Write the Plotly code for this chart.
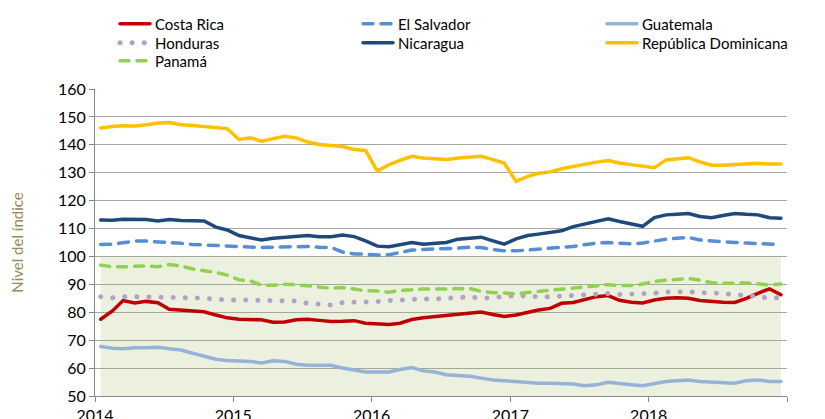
import pandas as pd
import plotly.graph_objects as go

months = pd.date_range("2014-01-01", periods=60, freq="MS") + pd.Timedelta(days=15)

costa_rica = [77.5, 80.5, 84.2, 83.3, 83.9, 83.4, 81.1, 80.7, 80.5, 80.2, 79.0, 78.0,
              77.5, 77.4, 77.3, 76.4, 76.5, 77.3, 77.5, 77.1, 76.7, 76.8, 77.0, 76.1,
              75.7, 75.6, 76.1, 77.4, 78.0, 78.4, 78.8, 79.1, 79.5, 80.1, 79.2, 78.5,
              79.0, 80.1, 80.8, 81.4, 83.2, 83.5, 84.4, 85.6, 86.0, 84.3, 83.6, 83.3,
              84.4, 85.0, 85.2, 85.0, 84.2, 83.8, 83.6, 83.5, 85.0, 86.8, 88.4, 86.3]
el_salvador = [104.3, 104.4, 104.9, 105.5, 105.5, 105.3, 105.0, 104.7, 104.3, 104.1, 104.0, 103.8,
               103.5, 103.4, 103.2, 103.3, 103.5, 103.6, 103.6, 103.3, 103.2, 101.6, 100.9, 100.8,
               100.5, 100.6, 101.5, 102.3, 102.5, 102.6, 102.7, 103.0, 103.3, 103.2, 102.5, 102.0,
               102.0, 102.3, 102.8, 103.1, 103.3, 103.6, 104.2, 104.8, 105.0, 104.6, 104.5, 104.8,
               105.5, 106.2, 106.5, 106.8, 105.9, 105.5, 105.3, 105.0, 104.8, 104.7, 104.3, 104.3]
guatemala = [67.7, 67.1, 66.9, 67.3, 67.3, 67.5, 66.9, 66.5, 65.3, 64.2, 63.2, 62.7,
             62.7, 62.4, 61.8, 62.6, 62.4, 61.4, 61.0, 61.0, 61.0, 60.0, 59.2, 58.6,
             58.6, 58.6, 59.5, 60.2, 59.0, 58.6, 57.6, 57.4, 57.1, 56.4, 55.7, 55.5,
             55.2, 54.8, 54.6, 54.6, 54.6, 54.3, 53.7, 54.0, 54.9, 54.4, 54.0, 53.7,
             54.6, 55.2, 55.5, 55.7, 55.2, 54.9, 54.6, 54.6, 55.5, 55.7, 55.2, 55.2]
honduras = [85.6, 85.2, 85.6, 85.6, 85.6, 85.6, 85.2, 85.2, 85.2, 85.0, 84.6, 84.4,
            84.4, 84.4, 84.0, 84.0, 84.3, 84.0, 83.2, 82.9, 82.6, 83.5, 83.5, 83.5,
            83.8, 84.2, 84.5, 84.8, 84.8, 84.8, 84.9, 85.0, 85.5, 85.0, 85.5, 85.6,
            86.0, 85.6, 85.6, 85.6, 85.8, 86.0, 86.4, 86.7, 86.7, 86.4, 86.5, 86.8,
            86.8, 87.3, 87.4, 87.4, 87.0, 87.0, 86.8, 86.2, 86.2, 85.6, 85.0, 85.3]
nicaragua = [113.1, 113.0, 113.3, 113.3, 113.2, 112.7, 113.2, 112.9, 112.9, 112.7, 110.5, 109.5,
             107.5, 106.5, 105.9, 106.5, 106.9, 107.2, 107.5, 107.1, 107.1, 107.7, 107.1, 105.6,
             103.7, 103.5, 104.1, 105.0, 104.4, 104.7, 105.0, 106.2, 106.5, 106.9, 105.6, 104.4,
             106.3, 107.5, 108.0, 108.6, 109.2, 110.7, 111.6, 112.8, 113.5, 112.5, 111.6, 110.8,
             113.9, 114.9, 115.1, 115.4, 114.3, 113.9, 114.7, 115.4, 115.1, 114.9, 113.9, 113.7]
rep_dominicana = [146.0, 146.6, 146.8, 146.7, 147.2, 147.8, 148.0, 147.2, 146.9, 146.6, 146.3, 145.8,
                  141.9, 142.5, 141.3, 142.3, 143.1, 142.5, 141.0, 140.1, 139.9, 139.4, 138.3, 138.0,
                  130.6, 132.9, 134.4, 135.9, 135.3, 135.0, 134.7, 135.3, 135.7, 135.9, 134.7, 133.5,
                  126.9, 128.7, 129.8, 130.3, 131.4, 132.3, 132.9, 133.8, 134.4, 133.5, 132.9, 132.3,
                  131.8, 134.6, 134.9, 135.4, 133.9, 132.7, 132.7, 133.0, 133.2, 133.4, 133.1, 133.1]
panama = [96.9, 96.3, 96.3, 96.5, 96.6, 96.3, 97.1, 96.6, 95.5, 94.9, 94.3, 93.3,
          91.6, 91.2, 89.7, 89.7, 90.0, 89.9, 89.5, 89.0, 88.6, 88.9, 88.3, 87.7,
          87.6, 87.2, 87.8, 88.2, 88.3, 88.3, 88.4, 88.6, 88.5, 87.5, 87.0, 86.9,
          86.6, 87.1, 87.5, 87.9, 88.3, 88.7, 89.2, 89.6, 89.9, 89.6, 89.6, 90.1,
          91.0, 91.5, 91.9, 92.1, 91.5, 90.6, 90.4, 90.5, 90.5, 90.2, 89.8, 90.1]

band_level = 100
band = [band_level] * len(months)

year_ticks = pd.to_datetime(["2014-01-01", "2015-01-01", "2016-01-01", "2017-01-01",
                             "2018-01-01", "2019-01-01"])
year_labels = ["2014", "2015", "2016", "2017", "2018", ""]
y_ticks = list(range(50, 161, 10))

FONT = "Lato"
W, H = 825, 419
ML, MR, MT, MB = 87, 46, 81, 31
PW, PH = W - ML - MR, H - MT - MB

fig = go.Figure()

fig.add_trace(go.Scatter(x=months, y=band, mode="lines", line=dict(width=0),
                         fill="tozeroy", fillcolor="rgba(155,187,89,0.2)",
                         showlegend=False, hoverinfo="skip"))

# name, values, colour, dash, legend column (px left), legend row (px centre)
series = [
    ("Costa Rica", costa_rica, "#C00000", "solid", 107, 16),
    ("El Salvador", el_salvador, "#558ED5", "10px,8px", 350, 16),
    ("Guatemala", guatemala, "#95B3D7", "solid", 594, 16),
    ("Honduras", honduras, "#B3A2C7", "0.1px,12px", 107, 35),
    ("Nicaragua", nicaragua, "#1F497D", "solid", 350, 35),
    ("República Dominicana", rep_dominicana, "#FFC000", "solid", 594, 35),
    ("Panamá", panama, "#92D050", "9px,8px", 107, 53),
]
legend_layout = {}
for k, (name, vals, color, dash, lx, ly) in enumerate(series):
    w = 5 if name == "Honduras" else 3.5
    lname = "legend" if k == 0 else f"legend{k + 1}"
    fig.add_trace(go.Scatter(x=months, y=vals, name=name, mode="lines", legend=lname,
                             line=dict(color=color, width=w, dash=dash)))
    legend_layout[lname] = dict(xref="paper", yref="paper",
                                x=(lx - ML) / PW, y=(H - MB - ly) / PH,
                                xanchor="left", yanchor="middle",
                                font=dict(family=FONT, size=15, color="#000000"),
                                bgcolor="rgba(0,0,0,0)", itemwidth=30)

axis_font = dict(family=FONT, size=16, color="#000000")
fig.update_layout(
    width=W, height=H,
    margin=dict(l=ML, r=MR, t=MT, b=MB, autoexpand=False),
    plot_bgcolor="white", paper_bgcolor="white",
    font=dict(family=FONT, size=14, color="#000000"),
    showlegend=True,
    xaxis=dict(type="date", range=["2014-01-01", "2019-01-01"],
               tickvals=year_ticks, ticktext=year_labels,
               ticks="outside", ticklen=5, tickcolor="#898989",
               showline=True, linecolor="#898989", linewidth=1,
               showgrid=False, tickfont=axis_font, zeroline=False),
    yaxis=dict(range=[50, 160], tickvals=y_ticks, ticks="outside", ticklen=5,
               tickcolor="#898989", showline=True, linecolor="#898989",
               gridcolor="#A6A6A6", gridwidth=1, zeroline=False,
               tickfont=axis_font,
               title=dict(text="Nivel del índice", font=dict(family=FONT, size=15, color="#948A54"),
                          standoff=35)),
    yaxis2=dict(range=[50, 160], tickvals=y_ticks, ticks="outside", ticklen=5,
                tickcolor="#898989", showline=True, linecolor="#898989",
                overlaying="y", side="right", anchor="x", showgrid=False,
                zeroline=False, tickfont=axis_font),
    **legend_layout,
)

post = ("document.querySelectorAll('.js-line').forEach(function(p){"
        "p.style.strokeLinecap='round';});")
fig.write_html("out.html", post_script=post)
